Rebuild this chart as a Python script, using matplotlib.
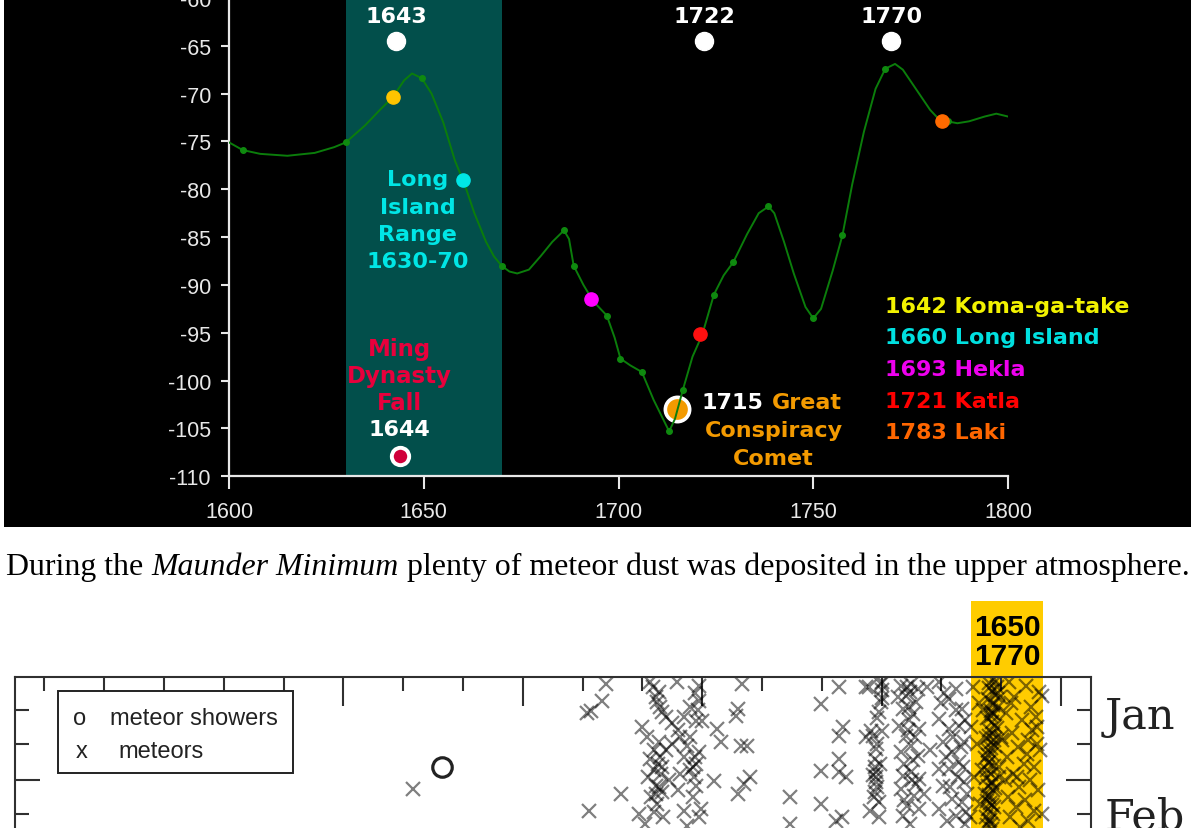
"""
Maunder-minimum page: carbon curve with volcano/comet events (black panel),
caption line, and the top strip of the meteor record chart.
"""
import matplotlib
matplotlib.use("Agg")
import matplotlib.pyplot as plt
import matplotlib.transforms as mtransforms
from matplotlib import font_manager
from matplotlib.patches import Rectangle
from matplotlib.ticker import MultipleLocator, FixedLocator, FuncFormatter

plt.rcParams["axes.unicode_minus"] = False

W, H = 1191, 829

# ---------------- top chart data ----------------
curve_year = [1600, 1603.5, 1608, 1615, 1622, 1627, 1630, 1635, 1639, 1642,
              1645, 1647, 1649.5, 1652, 1655, 1658, 1660.5, 1663, 1666, 1668,
              1670, 1672, 1674, 1677, 1680, 1683, 1686, 1687.3, 1688.5, 1691,
              1693.5, 1697, 1699, 1700.5, 1703, 1706, 1709, 1713, 1714.5, 1716.5,
              1719, 1721.5, 1724.5, 1727, 1729.5, 1733, 1736, 1738.5, 1740, 1742.5,
              1745, 1748, 1750, 1752, 1755, 1757.5, 1760, 1763, 1766, 1768.5,
              1771, 1773, 1776, 1780, 1783, 1784.5, 1787, 1790, 1794, 1797,
              1800]
curve_val = [-75.1, -75.9, -76.3, -76.5, -76.2, -75.6, -75.1, -73.3, -71.6, -70.4,
             -68.6, -67.9, -68.4, -70.0, -73.0, -77.0, -79.5, -82.5, -85.5, -87.0,
             -88.0, -88.6, -88.8, -88.4, -87.0, -85.5, -84.3, -85.2, -88.0, -90.0,
             -91.7, -93.2, -95.5, -97.7, -98.4, -99.1, -102.0, -105.3, -104.0, -101.0,
             -97.5, -95.2, -91.0, -89.0, -87.6, -84.7, -82.5, -81.8, -82.5, -85.5,
             -88.8, -92.3, -93.5, -92.5, -88.5, -84.8, -79.5, -74.0, -69.5, -67.4,
             -66.9, -67.5, -69.3, -71.7, -73.0, -72.9, -73.1, -72.9, -72.4, -72.1,
             -72.4]
knot_year = [1603.5, 1630, 1649.5, 1670, 1686, 1688.5, 1697, 1700.5, 1706, 1713,
             1716.5, 1724.5, 1729.5, 1738.5, 1750, 1757.5, 1768.5, 1784.5]

volcano_year = [1642, 1660, 1693, 1721, 1783]
volcano_val = [-70.4, -79.0, -91.5, -95.1, -72.9]
volcano_name = ["Koma-ga-take", "Long Island", "Hekla", "Katla", "Laki"]
volcano_dot = ["#ffc400", "#00e6e6", "#ff00ff", "#ff1010", "#ff6a00"]
volcano_txt = ["#f2f200", "#00e0e0", "#ee00ee", "#ff0000", "#ff6600"]

marker_year = [1643, 1722, 1770]      # white markers along the top
marker_val = [-64.5, -64.5, -64.5]
comet_year, comet_val = 1715, -103.0
ming_year, ming_val = 1644, -107.9
long_island_range = (1630, 1670)

# ---------------- meteor chart data (year, day of year) ----------------
meteor_year = [
    716,
    1039, 1014, 1008, 1033, 1064, 1011,
    1112, 1128, 1125, 1133, 1158, 1195, 1195, 1100, 1128, 1162, 1174, 1190, 1200, 1112,
    1133, 1184, 1162, 1195, 1123, 1133, 1190, 1220, 1095, 1120, 1198, 1175, 1225, 1232,
    1259, 1257, 1274, 1265, 1279, 1270, 1259, 1267, 1346, 1346, 1399, 1429, 1429, 1399,
    1429, 1429, 1399, 1424,
    1118, 1122, 1130, 1140, 1150, 1160, 1170, 1180, 1188, 1193, 1108, 1120, 1130, 1140,
    1150, 1170, 1180, 1110, 1120, 1145, 1180, 1190, 1115, 1125, 1135, 1185, 1195, 1105,
    1160, 1170, 1126, 1131, 1128, 1123, 1186, 1188,
    1436, 1440, 1434,
    1473, 1479, 1499, 1499, 1496, 1485, 1474, 1490, 1488, 1490, 1490, 1488, 1496, 1482,
    1501, 1493, 1497, 1486, 1493, 1480, 1495, 1500, 1500, 1501, 1489, 1491, 1487, 1492,
    1532, 1549, 1560, 1540, 1557, 1535, 1552, 1529, 1540, 1563, 1549, 1532, 1560, 1535,
    1549, 1563, 1532, 1554, 1543, 1563, 1535, 1545, 1555, 1538, 1557, 1547, 1528, 1545,
    1552, 1542, 1548, 1544, 1550, 1537,
    1575, 1580, 1570,
    1596, 1613, 1624, 1635, 1596, 1613, 1630, 1638, 1602, 1618, 1596, 1613, 1630, 1638,
    1602, 1618, 1635, 1596, 1624, 1641, 1605, 1625, 1640, 1608, 1628, 1642, 1610, 1640,
    1600, 1620, 1632, 1615, 1636,
    1650, 1660, 1655, 1665, 1648, 1662, 1652,
    1688, 1680, 1692, 1684, 1690, 1678, 1686, 1694, 1682, 1688, 1676, 1684, 1690, 1680,
    1686, 1674, 1682, 1690, 1678, 1684, 1672, 1680, 1688, 1676, 1682, 1674, 1684, 1678,
    1686, 1672, 1680, 1676, 1684, 1678, 1686, 1674, 1680, 1676, 1684, 1698, 1700, 1696,
    1670, 1668,
    1690, 1694, 1686, 1682, 1692, 1688, 1678, 1696, 1684, 1680, 1687, 1681, 1679, 1685,
    1683, 1677, 1689, 1681, 1679, 1683,
    1713, 1741, 1763, 1722, 1750, 1708, 1735, 1760, 1718, 1745, 1728, 1765, 1710, 1738,
    1755, 1720, 1748, 1730, 1762, 1712, 1740, 1725, 1755, 1715, 1745, 1732, 1768, 1706,
    1758, 1702, 1768, 1752, 1726, 1760, 1716, 1743,
]
meteor_day = [
    33.7,
    2.2, 10.2, 11.0, 7.2, 35.1, 40.1,
    1.6, 4.6, 7.6, 10.6, 1.6, 2.8, 7.3, 15.1, 19.6, 18.1, 20.7, 13.3, 13.3, 24.6,
    27.0, 27.0, 29.1, 22.5, 32.7, 34.5, 32.7, 31.2, 41.0, 40.4, 39.6, 44.6, 15.7, 19.6,
    9.7, 11.8, 20.7, 20.7, 30.0, 32.1, 35.1, 2.2, 35.9, 44.0, 8.2, 3.1, 17.8, 28.2,
    24.6, 28.5, 38.0, 43.1,
    3, 6, 9, 12, 14, 16, 12, 9, 5, 10, 18, 22, 24, 22,
    20, 24, 18, 30, 28, 31, 28, 26, 36, 38, 42, 36, 42, 44,
    34, 40, 26, 29, 33, 35, 30, 24,
    15, 30, 42,
    3.2, 3.2, 2.2, 7.7, 10.7, 17.7, 18.2, 21.7, 24.6, 28.6, 31.6, 34.6, 37.6, 16.2,
    16.2, 12.5, 26, 29.5, 33, 40, 42, 1.5, 4, 6.5, 27, 30, 36, 20,
    2.7, 2.2, 3.7, 5.7, 7.7, 9.7, 11.2, 14.7, 17.7, 15.7, 20.7, 22.6, 23.6, 29.6,
    28.6, 30.6, 33.6, 35.6, 38.6, 39.6, 41.6, 13, 18, 26, 32, 44, 6, 9,
    25, 3, 4.5, 16, 31, 37,
    3, 22, 35,
    1.7, 6.7, 3.7, 9.7, 12.7, 15.7, 14.7, 19.6, 19.6, 22.6, 27.6, 27.6, 25.6, 31.6,
    32.6, 36.6, 37.6, 39.6, 41.6, 40.5, 5, 10, 13, 24, 30, 35, 43, 44,
    8, 18, 21, 33, 27,
    15, 20, 30, 38, 42, 8, 3,
    0.8, 2.0, 3.0, 4.2, 5.5, 6.6, 7.8, 9.0, 10.2, 11.3, 12.5, 13.7, 14.9, 16.0,
    17.2, 18.4, 19.6, 20.8, 22.0, 23.1, 24.3, 25.5, 26.7, 27.9, 29.0, 30.2, 31.4, 32.6,
    33.8, 35.0, 36.1, 37.3, 38.5, 39.7, 40.9, 42.0, 43.2, 44.4, 45.5, 6, 18, 30,
    10, 28,
    1.5, 4.8, 8.5, 11.9, 15.5, 19.0, 23.5, 27.0, 31.9, 35.5, 39.0, 42.8, 3.5, 10.8,
    21.4, 25.8, 33.2, 37.9, 17.7, 44.1,
    1.7, 2.7, 4.7, 6, 9, 11, 13, 15, 17, 19, 21, 22, 24, 26,
    27, 29, 31, 33, 34, 36, 37, 39, 40, 42, 43, 45, 41, 31,
    12, 19, 5.8, 16, 30, 20, 8, 23,
]
shower_year = [764]
shower_day = [27.0]
band_years = (1650, 1770)
month_labels = ["Jan", "Feb"]
month_label_day = [11.8, 41.9]


def font_available(name):
    return any(f.name == name for f in font_manager.fontManager.ttflist)


if font_available("Liberation Sans Narrow"):
    TICK_FONT = dict(family="Liberation Sans Narrow", size=18.5)
else:
    TICK_FONT = dict(family="Liberation Sans", size=15.5)

BOLD = dict(family="DejaVu Sans", fontweight="bold", fontsize=16)

fig = plt.figure(figsize=(W / 100, H / 100), dpi=100)
fig.patch.set_facecolor("white")

# black panel behind the top chart
fig.add_artist(Rectangle((4 / W, 1 - 528 / H), 1, 528 / H, transform=fig.transFigure,
                         facecolor="black", edgecolor="none", zorder=-5))

# ---------------- top chart ----------------
ax = fig.add_axes([229 / W, 1 - 477.3 / H, (1008 - 229) / W, 478.4 / H])
ax.set_facecolor("none")
ax.set_xlim(1600, 1800)
ax.set_ylim(-110, -60)
for side in ("top", "right"):
    ax.spines[side].set_visible(False)
for side in ("left", "bottom"):
    ax.spines[side].set_color("#e8e8e8")
    ax.spines[side].set_linewidth(1.6)

ax.xaxis.set_major_locator(MultipleLocator(50))
ax.xaxis.set_minor_locator(MultipleLocator(5))
ax.yaxis.set_major_locator(MultipleLocator(5))
ax.yaxis.set_minor_locator(MultipleLocator(1))
ax.yaxis.set_major_formatter(FuncFormatter(lambda v, p: f"{v:.0f}"))
ax.tick_params(colors="#e8e8e8", width=1.5)
ax.tick_params(axis="x", which="major", length=9, pad=9)
ax.tick_params(axis="x", which="minor", length=4)
ax.tick_params(axis="y", which="major", length=6, pad=7)
ax.tick_params(axis="y", which="minor", length=3.5)
for lab in ax.get_xticklabels() + ax.get_yticklabels():
    lab.set_fontfamily(TICK_FONT["family"])
    lab.set_fontsize(TICK_FONT["size"])
    lab.set_color("#e8e8e8")

ax.axvspan(*long_island_range, color="#024f4b", zorder=0, lw=0)

knot_val = [curve_val[curve_year.index(y)] for y in knot_year]
ax.plot(curve_year, curve_val, color="#0b7d0b", lw=1.4, zorder=4)
ax.plot(knot_year, knot_val, "o", color="#0f8a0f", ms=4, zorder=4)

# comet (under the curve) and Ming marker
ax.plot([comet_year], [comet_val], "o", ms=17.5, mfc="#f39a00", mec="white", mew=2.6, zorder=3)
ax.plot([ming_year], [ming_val], "o", ms=12.5, mfc="#d0003a", mec="white", mew=2.8, zorder=5)
for yr, v, c in zip(volcano_year, volcano_val, volcano_dot):
    ax.plot([yr], [v], "o", ms=9.5, color=c, zorder=5)
ax.plot(marker_year, marker_val, "o", ms=13, color="white", zorder=5)


def stacked(x, y, lines, colors, step=19.7, ha="center", size=16):
    for i, (s, c) in enumerate(zip(lines, colors)):
        ax.annotate(s, (x, y), xytext=(0, -i * step), textcoords="offset points",
                    ha=ha, va="center", color=c, annotation_clip=False,
                    family="DejaVu Sans", fontweight="bold", fontsize=size)


for yr in marker_year:
    stacked(yr, -61.9, [str(yr)], ["white"])
stacked(1648.5, -78.95, ["Long", "Island", "Range", "1630-70"], ["#00e6e6"] * 4)
stacked(1643.8, -96.6, ["Ming", "Dynasty", "Fall"], ["#e8003c"] * 3, step=19.6, size=16.5)
stacked(1643.8, -105.1, [str(ming_year)], ["white"])
stacked(1721.3, -102.27, [str(comet_year)], ["white"], ha="left")
stacked(1739.5, -102.27, ["Great"], ["#f39a00"], ha="left")
stacked(1739.8, -105.2, ["Conspiracy", "Comet"], ["#f39a00"] * 2)
stacked(1768.3, -92.17, [f"{y} {n}" for y, n in zip(volcano_year, volcano_name)],
        volcano_txt, step=22.8, ha="left")

# ---------------- caption line ----------------
caption = [("During the", "normal"), ("Maunder Minimum", "italic"),
           ("plenty of meteor dust was deposited in the upper atmosphere.", "normal")]
pieces = [fig.text(0, 1 - 575 / H, s, style=st, family="Liberation Serif",
                   fontsize=20, va="baseline", color="black") for s, st in caption]
renderer = fig.canvas.get_renderer()


def run_width(size):
    for p in pieces:
        p.set_fontsize(size)
    probe = fig.text(0, 0, "a a", family="Liberation Serif", fontsize=size)
    probe2 = fig.text(0, 0, "aa", family="Liberation Serif", fontsize=size)
    space = probe.get_window_extent(renderer).width - probe2.get_window_extent(renderer).width
    probe.remove()
    probe2.remove()
    widths = [p.get_window_extent(renderer).width for p in pieces]
    return widths, space


widths, space = run_width(20)
size = 20 * 1184 / (sum(widths) + 2 * space)
widths, space = run_width(size)
x = 6
for p, w in zip(pieces, widths):
    p.set_x(x / W)
    x += w + space

# ---------------- meteor chart (top strip) ----------------
ax2 = fig.add_axes([14.5 / W, 1 - 878.5 / H, 1076.5 / W, 201 / H])
ax2.set_facecolor("white")
ax2.set_xlim(50, 1850)
ax2.set_ylim(60, 0)
for side in ax2.spines:
    ax2.spines[side].set_color("#303030")
    ax2.spines[side].set_linewidth(1.5)
ax2.xaxis.set_major_locator(FixedLocator([300, 600, 900, 1200, 1500, 1800]))
ax2.xaxis.set_minor_locator(FixedLocator([100, 200, 400, 500, 700, 800, 1000, 1100,
                                          1300, 1400, 1600, 1700]))
ax2.yaxis.set_major_locator(FixedLocator([31]))
ax2.yaxis.set_minor_locator(FixedLocator([10, 20, 41, 51]))
ax2.tick_params(axis="x", which="both", direction="in", top=True, bottom=False,
                labeltop=False, labelbottom=False, color="#303030", width=1.5)
ax2.tick_params(axis="x", which="major", length=21)
ax2.tick_params(axis="x", which="minor", length=10)
ax2.tick_params(axis="y", which="both", direction="in", left=True, right=True,
                labelleft=False, labelright=False, color="#303030", width=1.5)
ax2.tick_params(axis="y", which="major", length=18)
ax2.tick_params(axis="y", which="minor", length=10)

band_tr = mtransforms.blended_transform_factory(ax2.transData, fig.transFigure)
ax2.add_patch(Rectangle((band_years[0], 0), band_years[1] - band_years[0], 1 - 602 / H,
                        transform=band_tr, facecolor="#ffcc00", edgecolor="none",
                        zorder=0.5, clip_on=False))
band_mid = (band_years[0] + band_years[1]) / 2
for lab, ypx in zip(band_years, (628, 657)):
    ax2.text(band_mid, 1 - ypx / H, str(lab), transform=band_tr, ha="center", va="center",
             family="Liberation Sans", fontweight="bold", fontsize=21.5, color="black",
             clip_on=False)

ax2.plot(meteor_year, meteor_day, "x", color="black", alpha=0.5, ms=10, mew=1.6,
         linestyle="none", zorder=2)
ax2.plot(shower_year, shower_day, "o", mfc="none", mec="#222222", ms=14, mew=2.3, zorder=3)

# legend box
ax2.add_patch(Rectangle((0.0404, 0.5199), 0.2183, 0.408, transform=ax2.transAxes,
                        facecolor="white", edgecolor="#222222", lw=1.4, zorder=4))
legend_font = dict(family="Liberation Sans", fontsize=17, color="#222222", zorder=5,
                   transform=ax2.transAxes, va="center")
ax2.text(0.0608, 0.7935, "o", ha="center", **legend_font)
ax2.text(0.0887, 0.7935, "meteor showers", ha="left", **legend_font)
ax2.text(0.0627, 0.6294, "x", ha="center", **legend_font)
ax2.text(0.0961, 0.6294, "meteors", ha="left", **legend_font)

month_tr = mtransforms.blended_transform_factory(ax2.transAxes, ax2.transData)
for lab, d in zip(month_labels, month_label_day):
    ax2.text(1.013, d, lab, transform=month_tr, ha="left", va="center",
             family="DejaVu Serif", fontsize=31, color="#222222", clip_on=False)

fig.savefig("out.png", dpi=100)
plt.close(fig)
